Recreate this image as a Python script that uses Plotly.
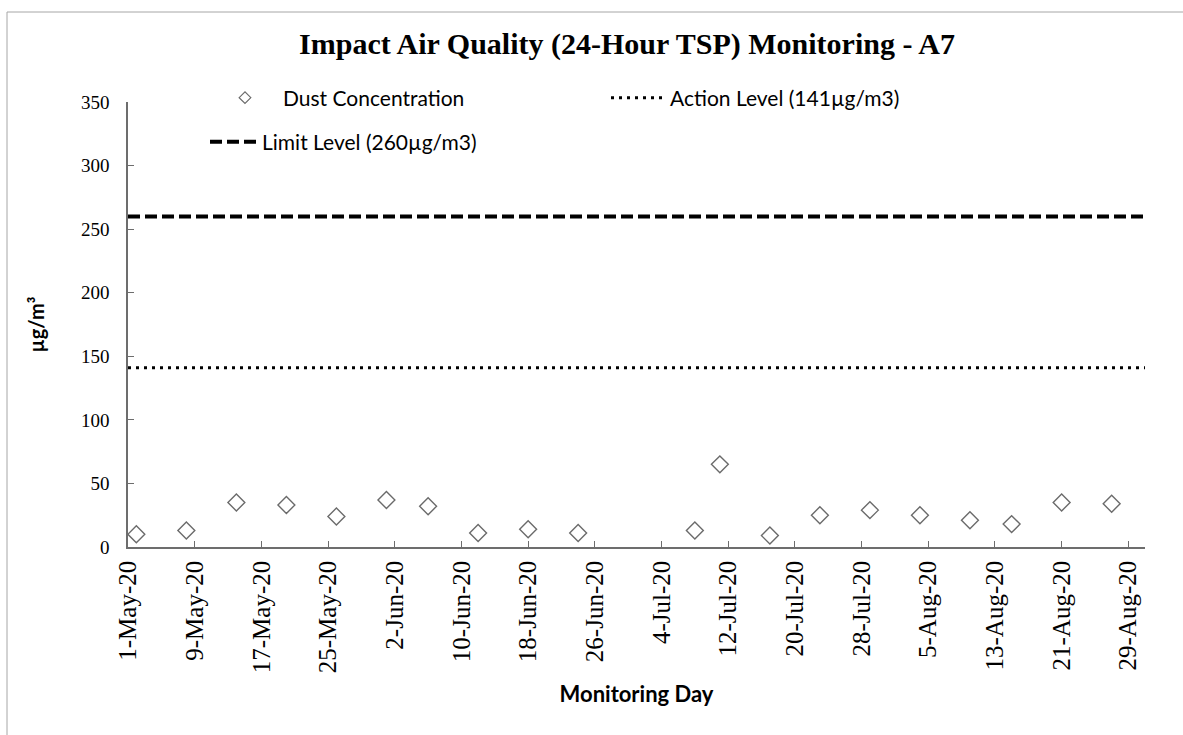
import plotly.graph_objects as go

# ---- data ----
dates = ['2020-05-02', '2020-05-08', '2020-05-14', '2020-05-20', '2020-05-26',
         '2020-06-01', '2020-06-06', '2020-06-12', '2020-06-18', '2020-06-24',
         '2020-07-08', '2020-07-11', '2020-07-17', '2020-07-23', '2020-07-29',
         '2020-08-04', '2020-08-10', '2020-08-15', '2020-08-21', '2020-08-27']
dust = [10, 13, 35, 33, 24, 37, 32, 11, 14, 11,
        13, 65, 9, 25, 29, 25, 21, 18, 35, 34]
action_level = 141
limit_level = 260
x_range = ['2020-05-01', '2020-08-31']
y_range = [0, 350]

title = 'Impact Air Quality (24-Hour TSP) Monitoring - A7'
dust_name = 'Dust Concentration'
action_name = 'Action Level (141µg/m3)'
limit_name = 'Limit Level (260µg/m3)'

W, H = 1183, 735
L, R, T, B = 128, 38, 102, 188
pw, ph = W - L - R, H - T - B

def px(sx):  # screen x -> paper x
    return (sx - L) / pw

def py(sy):  # screen y -> paper y
    return (H - B - sy) / ph

legend_font = dict(family='Lato, Carlito, sans-serif', size=21, color='#000000')
marker_col = '#6b6b6b'

fig = go.Figure()
fig.add_trace(go.Scatter(
    x=dates, y=dust, mode='markers', name=dust_name, showlegend=False,
    marker=dict(symbol='diamond-open', size=13, color=marker_col,
                line=dict(width=1.4, color=marker_col)),
))
# legend entry only (smaller symbol like the original legend)
fig.add_trace(go.Scatter(
    x=[None], y=[None], mode='markers', name=dust_name, legend='legend', showlegend=True,
    marker=dict(symbol='diamond-open', size=9, color=marker_col,
                line=dict(width=1.2, color=marker_col)),
))

fig.add_shape(type='line', xref='x domain', yref='y', x0=0, x1=1,
              y0=action_level, y1=action_level,
              line=dict(color='#000000', width=3, dash='3px,5px'),
              showlegend=True, name=action_name, legend='legend2')
fig.add_shape(type='line', xref='x domain', yref='y', x0=0, x1=1,
              y0=limit_level, y1=limit_level,
              line=dict(color='#000000', width=4, dash='12px,5px'),
              showlegend=True, name=limit_name, legend='legend3')

# outer chart border (left & top visible)
fig.add_shape(type='rect', xref='paper', yref='paper',
              x0=px(7), x1=px(1300), y0=py(800), y1=py(12),
              line=dict(color='#a6a6a6', width=1), fillcolor='rgba(0,0,0,0)',
              layer='below')

axis_col = '#6d6d6d'
fig.update_layout(
    width=W, height=H, showlegend=True,
    margin=dict(l=L, r=R, t=T, b=B, autoexpand=False),
    paper_bgcolor='white', plot_bgcolor='white',
    title=dict(text='<b>' + title + '</b>', xref='paper', x=px(627), xanchor='center',
               y=1 - 43 / H, yanchor='middle',
               font=dict(family='Liberation Serif, Times New Roman, serif', size=30, color='#000000')),
    legend=dict(x=px(207), y=py(98), xanchor='left', yanchor='middle',
                font=legend_font, bgcolor='rgba(0,0,0,0)', itemwidth=66),
    legend2=dict(x=px(606), y=py(98), xanchor='left', yanchor='middle',
                 font=legend_font, bgcolor='rgba(0,0,0,0)', itemwidth=54),
    legend3=dict(x=px(205), y=py(142), xanchor='left', yanchor='middle',
                 font=legend_font, bgcolor='rgba(0,0,0,0)', itemwidth=47),
    xaxis=dict(
        type='date', range=x_range, tick0='2020-05-01', dtick=8 * 86400000,
        tickformat='%-d-%b-%y', tickangle=-90,
        ticks='inside', ticklen=6, tickcolor=axis_col, tickwidth=1.3,
        showline=True, linecolor=axis_col, linewidth=1.5, showgrid=False, zeroline=False,
        ticklabelstandoff=2,
        tickfont=dict(family='Liberation Serif, Times New Roman, serif', size=25, color='#000000'),
        title=dict(text='<b>Monitoring Day</b>', standoff=14,
                   font=dict(family='Lato, Carlito, sans-serif', size=22, color='#000000')),
    ),
    yaxis=dict(
        range=y_range, dtick=50,
        ticks='inside', ticklen=6, tickcolor=axis_col, tickwidth=1.3,
        showline=True, linecolor=axis_col, linewidth=1.5, showgrid=False, zeroline=False,
        ticklabelstandoff=13,
        tickfont=dict(family='Liberation Serif, Times New Roman, serif', size=19, color='#000000'),
        title=dict(text='<b>µg/m³</b>', standoff=31,
                   font=dict(family='Lato, Carlito, sans-serif', size=20, color='#000000')),
    ),
)

# remove the default 8px page margin so the figure fills the window exactly
fig.write_html('out.html', config={'displayModeBar': False},
               post_script="document.body.style.margin='0';")
